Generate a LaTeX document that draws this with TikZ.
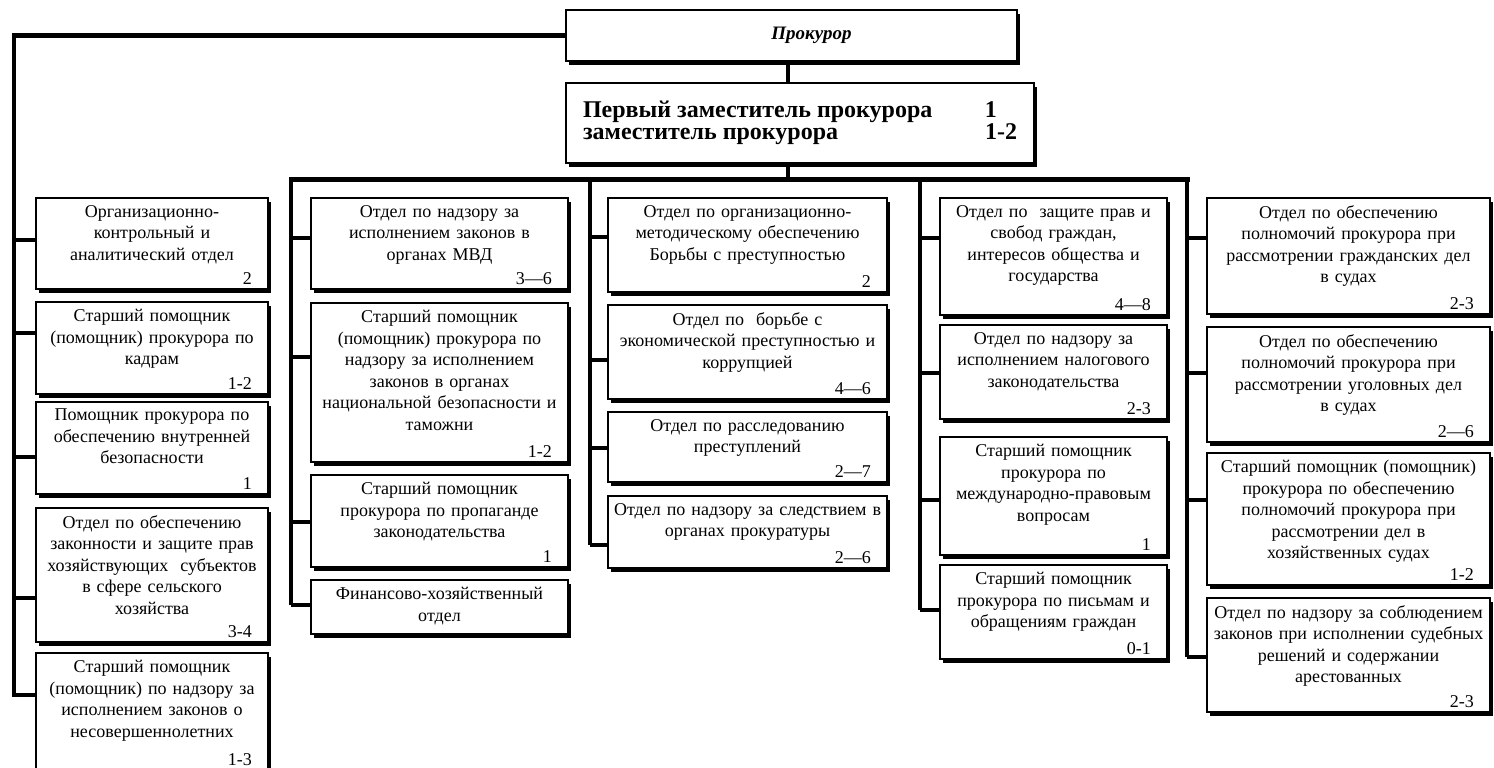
\documentclass[tikz,border=0pt]{standalone}
\usepackage{fontspec}
\setmainfont{Liberation Serif}
\usetikzlibrary{calc,shadows}
\tikzset{
  box/.style={draw, line width=1.5pt, fill=white, inner sep=0pt, outer sep=0pt,
    drop shadow={shadow xshift=3pt, shadow yshift=-4pt, fill=black, opacity=1}},
  txt/.style={inner sep=0pt, align=center, font=\fontsize{18}{21.5}\selectfont},
  num/.style={inner sep=0pt, font=\fontsize{18}{21.5}\selectfont},
  bus/.style={line width=5pt},
  trunk/.style={line width=3.5pt},
  stub/.style={line width=4.5pt, line join=miter},
}
% name, x, y, w, h, text, number, connector y
\newcommand\obox[8]{%
  \node[box, minimum width=#4pt, minimum height=#5pt, anchor=north west] (#1) at (#2,#3) {};
  \node[txt, text width=#4pt, anchor=north] (#1-t) at ($(#1.north)+(0,7)$) {#6};
  \node[num, anchor=base east] (#1-n) at ($(#1.south east)+(-16,-5)$) {#7};
  \coordinate (#1-in) at ($(#1.north west)+(0,#8-#3)$);
}
\begin{document}
\begin{tikzpicture}[x=1pt,y=-1pt]
\useasboundingbox (0,0) rectangle (1494,768);
\fill[white] (0,0) rectangle (1494,768);
\clip (0,0) rectangle (1494,768);

% top boxes
\node[box, minimum width=451pt, minimum height=51pt, anchor=north west] (prok) at (566,10) {};
\node[inner sep=0pt, font=\bfseries\itshape\fontsize{19}{22}\selectfont] (prokt) at ($(prok.center)+(20,0)$) {Прокурор};
\node[box, minimum width=468pt, minimum height=80pt, anchor=north west, align=left,
      font=\bfseries\fontsize{24}{22}\selectfont] (dep) at (566,83)
  {\makebox[402pt][l]{Первый заместитель прокурора}1\\\makebox[402pt][l]{заместитель прокурора}1-2};

% column 1
\obox{c1a}{36}{198}{232}{91}{Организационно-\\контрольный и\\аналитический отдел}{2}{240}
\obox{c1b}{36}{302}{232}{92}{Старший помощник\\(помощник) прокурора по\\кадрам}{1-2}{333}
\obox{c1c}{36}{402}{232}{92}{Помощник прокурора по\\обеспечению внутренней\\безопасности}{1}{457}
\obox{c1d}{36}{508}{232}{134}{Отдел по обеспечению\\законности и защите прав\\хозяйствующих\ \ субъектов\\в сфере сельского\\хозяйства}{3-4}{598}
\obox{c1e}{36}{653}{232}{117}{Старший помощник\\(помощник) по надзору за\\исполнением законов о\\несовершеннолетних}{1-3}{695}

% column 2
\obox{c2a}{311}{198}{257}{91}{Отдел по надзору за\\исполнением законов в\\органах МВД}{3—6}{238}
\obox{c2b}{311}{303}{257}{159}{Старший помощник\\(помощник) прокурора по\\надзору за исполнением\\законов в органах\\национальной безопасности и\\таможни}{1-2}{357}
\obox{c2c}{311}{475}{257}{92}{Старший помощник\\прокурора по пропаганде\\законодательства}{1}{522}
\obox{c2d}{311}{580}{257}{54}{Финансово-хозяйственный\\отдел}{}{605}

% column 3
\obox{c3a}{608}{198}{279}{94}{Отдел по организационно-\\методическому обеспечению\\Борьбы с преступностью}{2}{237}
\obox{c3b}{608}{305}{279}{94}{Отдел по\ \ борьбе с\\экономической преступностью и\\коррупцией}{4—6}{360}
\obox{c3c}{608}{412}{279}{70}{Отдел по расследованию\\преступлений}{2—7}{448}
\obox{c3d}{608}{496}{279}{72}{Отдел по надзору за следствием в\\органах прокуратуры}{2—6}{545}

% column 4
\obox{c4a}{940}{198}{227}{117}{Отдел по\ \ защите прав и\\свобод граждан,\\интересов общества и\\государства}{4—8}{238}
\obox{c4b}{940}{325}{227}{94}{Отдел по надзору за\\исполнением налогового\\законодательства}{2-3}{373}
\obox{c4c}{940}{437}{227}{118}{Старший помощник\\прокурора по\\международно-правовым\\вопросам}{1}{500}
\obox{c4d}{940}{565}{227}{94}{Старший помощник\\прокурора по письмам и\\обращениям граждан}{0-1}{610}

% column 5
\obox{c5a}{1207}{198}{283}{116}{Отдел по обеспечению\\полномочий прокурора при\\рассмотрении гражданских дел\\в судах}{2-3}{238}
\obox{c5b}{1207}{327}{283}{115}{Отдел по обеспечению\\полномочий прокурора при\\рассмотрении уголовных дел\\в судах}{2—6}{373}
\obox{c5c}{1207}{453}{283}{132}{Старший помощник (помощник)\\прокурора по обеспечению\\полномочий прокурора при\\рассмотрении дел в\\хозяйственных судах}{1-2}{500}
\obox{c5d}{1207}{598}{283}{114}{Отдел по надзору за соблюдением\\законов при исполнении судебных\\решений и содержании\\арестованных}{2-3}{657}

% connectors
\coordinate (spine) at (788,179);
\coordinate (T1) at (14,0);
\coordinate (T2) at (291,179);
\coordinate (T3) at (590,179);
\coordinate (T4) at (920,179);
\coordinate (T5) at (1187,179);

\draw[trunk] (prok.south -| spine) -- (dep.north -| spine);
\draw[trunk] (dep.south -| spine) -- (spine);
\draw[bus, line cap=rect] (T2) -- (T5);

\draw[stub] (prok.west) -| (c1e-in -| T1) -- (c1e-in);
\foreach \b in {c1a,c1b,c1c,c1d} \draw[stub] (\b-in) -- (\b-in -| T1);

\draw[trunk] (T2) -- (c2d-in -| T2);
\foreach \b in {c2a,c2b,c2c,c2d} \draw[stub] (\b-in) -- (\b-in -| T2);

\draw[trunk] (T3) -- (c3d-in -| T3);
\foreach \b in {c3a,c3b,c3c,c3d} \draw[stub] (\b-in) -- (\b-in -| T3);

\draw[trunk] (T4) -- (c4d-in -| T4);
\foreach \b in {c4a,c4b,c4c,c4d} \draw[stub] (\b-in) -- (\b-in -| T4);

\draw[trunk] (T5) -- (c5d-in -| T5);
\foreach \b in {c5a,c5b,c5c,c5d} \draw[stub] (\b-in) -- (\b-in -| T5);
\end{tikzpicture}
\end{document}
